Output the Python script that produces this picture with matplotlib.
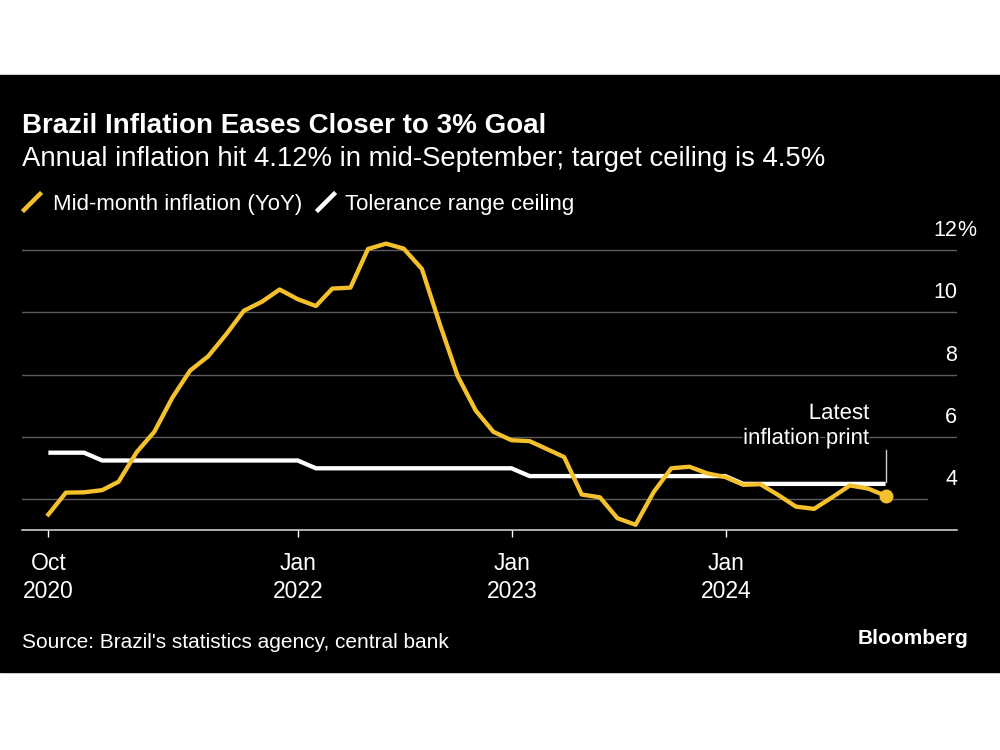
import matplotlib
matplotlib.use('Agg')
import matplotlib.pyplot as plt
import matplotlib.patheffects as pe
from matplotlib.lines import Line2D
from matplotlib.patches import Rectangle
import pandas as pd

plt.rcParams['font.family'] = ['Liberation Sans', 'DejaVu Sans']

# Monthly data, Oct 2020 - Sep 2024 (plotted at month end)
months = pd.date_range('2020-10-31', '2024-09-30', freq='ME')
inflation = [3.52, 4.22, 4.23,
             4.30, 4.57, 5.52, 6.17, 7.27, 8.13, 8.59, 9.30, 10.05, 10.34, 10.73, 10.42,
             10.20, 10.76, 10.79, 12.03, 12.20, 12.04, 11.39, 9.60, 7.96, 6.85, 6.17, 5.90,
             5.87, 5.63, 5.36, 4.16, 4.07, 3.40, 3.19, 4.24, 5.00, 5.05, 4.84, 4.72,
             4.47, 4.49, 4.14, 3.77, 3.70, 4.06, 4.45, 4.35, 4.12]
ceiling = [5.5, 5.5, 5.5,
           5.25, 5.25, 5.25, 5.25, 5.25, 5.25, 5.25, 5.25, 5.25, 5.25, 5.25, 5.25,
           5.0, 5.0, 5.0, 5.0, 5.0, 5.0, 5.0, 5.0, 5.0, 5.0, 5.0, 5.0,
           4.75, 4.75, 4.75, 4.75, 4.75, 4.75, 4.75, 4.75, 4.75, 4.75, 4.75, 4.75,
           4.5, 4.5, 4.5, 4.5, 4.5, 4.5, 4.5, 4.5, 4.5]

y_ticks = [4, 6, 8, 10, 12]
x_tick_dates = ['2020-10-31', '2022-01-01', '2023-01-01', '2024-01-01']
x_tick_labels = ['Oct\n2020', 'Jan\n2022', 'Jan\n2023', 'Jan\n2024']

YELLOW = '#F4C02C'
GRID = '#5c5c5c'

W, H = 1000, 750
fig = plt.figure(figsize=(10, 7.5), dpi=100, facecolor='white')

# black panel
fig.patches.append(Rectangle((0, 1 - 672 / H), 1, (672 - 75) / H,
                             transform=fig.transFigure, color='black', zorder=-5))

ax = fig.add_axes([22 / W, 1 - 530 / H, 935 / W, 292.5 / H])
ax.set_facecolor('none')
ax.set_zorder(2)

ax.set_xlim(pd.Timestamp('2020-09-16'), pd.Timestamp('2025-01-30'))
ax.set_ylim(3.022, 12.397)

for v in y_ticks:
    xmax = 0.968 if v == 4 else 1.0
    ax.axhline(v, xmin=0, xmax=xmax, color=GRID, lw=1.0, zorder=1)
    ax.annotate(str(v), xy=(1, v), xycoords=ax.get_yaxis_transform(),
                xytext=(0, 6.5), textcoords='offset points',
                ha='right', va='bottom', color='white', fontsize=15.5)
    if v == 12:
        ax.annotate('%', xy=(1, v), xycoords=ax.get_yaxis_transform(),
                    xytext=(0, 6.5), textcoords='offset points',
                    ha='left', va='bottom', color='white', fontsize=15.5)

ax.plot(months, ceiling, color='white', lw=3.1, solid_capstyle='butt', zorder=3)
ax.plot(months, inflation, color=YELLOW, lw=3.1, solid_joinstyle='round', zorder=4)
ax.plot(months[-1], inflation[-1], 'o', color=YELLOW, ms=9, zorder=5)

# annotation for latest print
ax.plot([months[-1], months[-1]], [4.55, 5.6], color='#cccccc', lw=1.0, zorder=2)
ann_kw = dict(textcoords='offset points', ha='right', va='baseline', color='white',
              fontsize=16, path_effects=[pe.withStroke(linewidth=3, foreground='black')])
ax.annotate('Latest', xy=(months[-1], 6.58), xytext=(-11.5, 0), **ann_kw)
ax.annotate('inflation print', xy=(months[-1], 5.78), xytext=(-11.5, 0), **ann_kw)

# axes styling
for side in ['top', 'right', 'left']:
    ax.spines[side].set_visible(False)
ax.spines['bottom'].set_color('#dddddd')
ax.spines['bottom'].set_linewidth(1.1)
ax.set_yticks([])
ax.set_xticks([pd.Timestamp(d) for d in x_tick_dates])
ax.set_xticklabels(x_tick_labels, linespacing=1.3)
ax.tick_params(axis='x', colors='white', length=5, width=1, pad=10.5, labelsize=16.5)

# titles and legend
fig.text(22 / W, 1 - 133 / H, 'Brazil Inflation Eases Closer to 3% Goal', color='white',
         fontsize=20, fontweight='bold', va='baseline', ha='left')
fig.text(22 / W, 1 - 166 / H,
         'Annual inflation hit 4.12% in mid-September; target ceiling is 4.5%',
         color='white', fontsize=19.8, va='baseline', ha='left')

fig.lines.append(Line2D([24 / W, 40 / W], [1 - 210 / H, 1 - 194 / H], color=YELLOW,
                        lw=3.2, transform=fig.transFigure))
fig.text(53 / W, 1 - 210 / H, 'Mid-month inflation (YoY)', color='white',
         fontsize=16, va='baseline', ha='left')
fig.lines.append(Line2D([318 / W, 334 / W], [1 - 210 / H, 1 - 194 / H], color='white',
                        lw=3.2, transform=fig.transFigure))
fig.text(345 / W, 1 - 210 / H, 'Tolerance range ceiling', color='white',
         fontsize=16, va='baseline', ha='left')

fig.text(22 / W, 1 - 648 / H, "Source: Brazil's statistics agency, central bank",
         color='white', fontsize=15, va='baseline', ha='left')
fig.text(968 / W, 1 - 644 / H, 'Bloomberg', color='white', fontsize=15,
         fontweight='bold', va='baseline', ha='right')

fig.savefig('out.png', dpi=100, facecolor='white')
